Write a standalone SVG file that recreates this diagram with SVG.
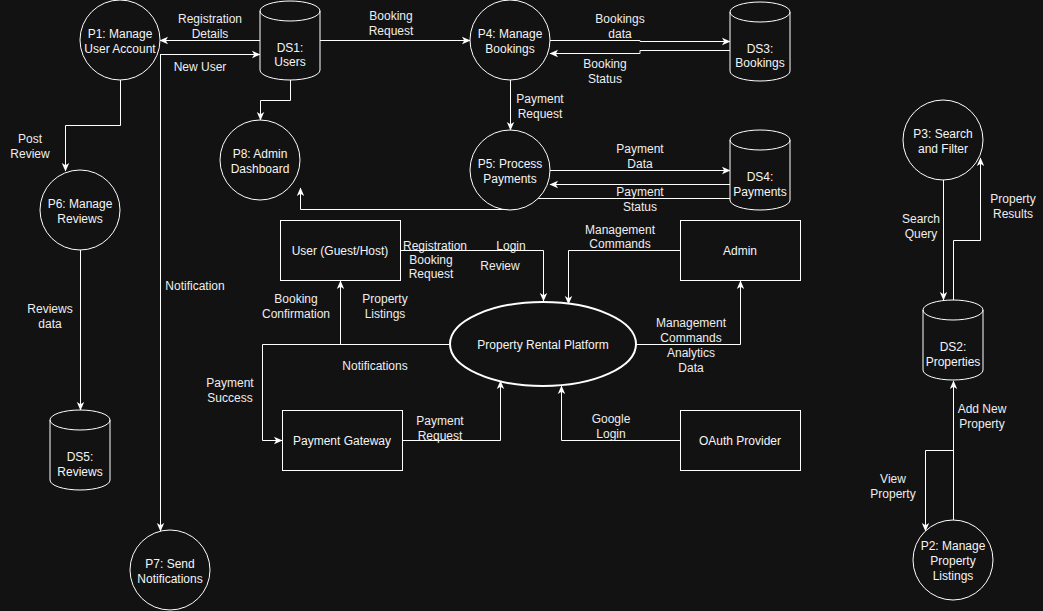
<svg xmlns="http://www.w3.org/2000/svg" width="1043" height="611" viewBox="0 0 1043 611">
  <defs>
    <marker id="arr" markerUnits="userSpaceOnUse" markerWidth="10" markerHeight="10" viewBox="0 0 10 10" refX="9" refY="5" orient="auto">
      <path d="M1,1.3 L9.5,5 L1,8.7 L3.2,5 Z" fill="#ffffff"/>
    </marker>
    <style>
      .bg { fill: #121212; }
      .shape { fill: #121212; stroke: #ffffff; stroke-width: 1; }
      .thick { stroke-width: 2; }
      .edge { fill: none; stroke: #ffffff; stroke-width: 1; marker-end: url(#arr); }
      .plain { fill: none; stroke: #ffffff; stroke-width: 1; }
      text { font-family: "Liberation Sans", Arial, sans-serif; font-size: 12px; text-anchor: middle; }
      .nt { fill: #f5f5f5; }
      .lbl { fill: #eeeeee; }
    </style>
  </defs>

  <rect class="bg" x="0" y="0" width="1043" height="611"/>

  <!-- data flows -->
  <g id="connectors">
    <path class="edge" d="M260,40.5 L160,40.5"/>
    <path class="edge" d="M160,54.5 L260,54.5"/>
    <path class="edge" d="M160.5,54.5 L160.5,531"/>
    <path class="edge" d="M290.5,80 L290.5,100.5 L260.5,100.5 L260.5,120"/>
    <path class="edge" d="M320,40.5 L470,40.5"/>
    <path class="edge" d="M550,40.5 L640,40.5 L640,41.5 L730,41.5"/>
    <path class="edge" d="M730,50.5 L640,50.5 L640,53.5 L550,53.5"/>
    <path class="edge" d="M510.5,80 L510.5,130"/>
    <path class="edge" d="M550,170.5 L730,170.5"/>
    <path class="edge" d="M730,184.5 L550,184.5"/>
    <path class="edge" d="M730,198.5 L515.5,198.5 L515.5,209.5 L300.5,209.5 L300.5,188"/>
    <path class="edge" d="M400,250.5 L543.5,250.5 L543.5,301"/>
    <path class="edge" d="M680,250.5 L568.5,250.5 L568.5,304"/>
    <path class="edge" d="M636,344.5 L740.5,344.5 L740.5,281"/>
    <path class="edge" d="M450,344.5 L340.5,344.5 L340.5,281"/>
    <path class="edge" d="M450,344.5 L262.5,344.5 L262.5,440.5 L282,440.5"/>
    <path class="edge" d="M402,440.5 L500.5,440.5 L500.5,381"/>
    <path class="edge" d="M680,440.5 L561.5,440.5 L561.5,386"/>
    <path class="edge" d="M943.5,180 L943.5,300"/>
    <path class="edge" d="M953.5,300 L953.5,240.5 L980.5,240.5 L980.5,158"/>
    <path class="edge" d="M953.5,520 L953.5,381"/>
    <path class="edge" d="M953.5,381 L953.5,450.5 L925.5,450.5 L925.5,531"/>
    <path class="edge" d="M120.5,80 L120.5,125.5 L65.5,125.5 L65.5,171"/>
    <path class="edge" d="M80.5,250 L80.5,410"/>
  </g>

  <!-- flow labels -->
  <g id="flow-labels" class="lbl">
    <text x="210" y="23">Registration</text>
    <text x="210" y="37.5">Details</text>
    <text x="200" y="71">New User</text>
    <text x="195" y="289.5">Notification</text>
    <text x="391" y="20">Booking</text>
    <text x="391" y="35">Request</text>
    <text x="620" y="23">Bookings</text>
    <text x="620" y="38">data</text>
    <text x="605" y="68">Booking</text>
    <text x="605" y="82.5">Status</text>
    <text x="540" y="103">Payment</text>
    <text x="540" y="118">Request</text>
    <text x="640" y="153">Payment</text>
    <text x="640" y="167.5">Data</text>
    <text x="640" y="195.5">Payment</text>
    <text x="640" y="210.5">Status</text>
    <text x="435" y="250">Registration</text>
    <text x="431" y="263.5">Booking</text>
    <text x="431" y="278">Request</text>
    <text x="511" y="250">Login</text>
    <text x="500" y="270">Review</text>
    <text x="620" y="233.5">Management</text>
    <text x="620" y="248">Commands</text>
    <text x="691" y="327">Management</text>
    <text x="691" y="342">Commands</text>
    <text x="691" y="356.5">Analytics</text>
    <text x="691" y="371.5">Data</text>
    <text x="296" y="303">Booking</text>
    <text x="296" y="317.5">Confirmation</text>
    <text x="385" y="303">Property</text>
    <text x="385" y="317.5">Listings</text>
    <text x="375" y="370">Notifications</text>
    <text x="230" y="387">Payment</text>
    <text x="230" y="402">Success</text>
    <text x="440" y="425">Payment</text>
    <text x="440" y="440">Request</text>
    <text x="611" y="423">Google</text>
    <text x="611" y="438">Login</text>
    <text x="921" y="223">Search</text>
    <text x="921" y="238">Query</text>
    <text x="1013" y="203">Property</text>
    <text x="1013" y="218">Results</text>
    <text x="982" y="413">Add New</text>
    <text x="982" y="428">Property</text>
    <text x="893" y="483">View</text>
    <text x="893" y="498">Property</text>
    <text x="30" y="143">Post</text>
    <text x="30" y="158">Review</text>
    <text x="50" y="313">Reviews</text>
    <text x="50" y="328">data</text>
  </g>

  <!-- processes -->
  <g id="p1">
    <circle class="shape" cx="120" cy="40" r="40"/>
    <text class="nt" x="120" y="37.5">P1: Manage</text>
    <text class="nt" x="120" y="52.5">User Account</text>
  </g>
  <g id="p4">
    <circle class="shape" cx="510" cy="40" r="40"/>
    <text class="nt" x="510" y="37.5">P4: Manage</text>
    <text class="nt" x="510" y="52.5">Bookings</text>
  </g>
  <g id="p8">
    <circle class="shape" cx="260" cy="160" r="40"/>
    <text class="nt" x="260" y="157.5">P8: Admin</text>
    <text class="nt" x="260" y="172.5">Dashboard</text>
  </g>
  <g id="p5">
    <circle class="shape" cx="510" cy="170" r="40"/>
    <text class="nt" x="510" y="167.5">P5: Process</text>
    <text class="nt" x="510" y="182.5">Payments</text>
  </g>
  <g id="p3">
    <circle class="shape" cx="943" cy="140" r="40"/>
    <text class="nt" x="943" y="137.5">P3: Search</text>
    <text class="nt" x="943" y="152.5">and Filter</text>
  </g>
  <g id="p6">
    <circle class="shape" cx="80" cy="210" r="40"/>
    <text class="nt" x="80" y="207.5">P6: Manage</text>
    <text class="nt" x="80" y="222.5">Reviews</text>
  </g>
  <g id="p7">
    <circle class="shape" cx="170" cy="570" r="40"/>
    <text class="nt" x="170" y="567.5">P7: Send</text>
    <text class="nt" x="170" y="582.5">Notifications</text>
  </g>
  <g id="p2">
    <circle class="shape" cx="953" cy="560" r="40"/>
    <text class="nt" x="953" y="550">P2: Manage</text>
    <text class="nt" x="953" y="565">Property</text>
    <text class="nt" x="953" y="580">Listings</text>
  </g>

  <!-- data stores -->
  <g id="ds1">
    <path class="shape" d="M260,11 A30,10 0 0 1 320,11 L320,70 A30,10 0 0 1 260,70 Z"/>
    <path class="plain" d="M260,11 A30,10 0 0 0 320,11"/>
    <text class="nt" x="290" y="52">DS1:</text>
    <text class="nt" x="290" y="66">Users</text>
  </g>
  <g id="ds3">
    <path class="shape" d="M730,12 A30,10 0 0 1 790,12 L790,71 A30,10 0 0 1 730,71 Z"/>
    <path class="plain" d="M730,12 A30,10 0 0 0 790,12"/>
    <text class="nt" x="760" y="52.5">DS3:</text>
    <text class="nt" x="760" y="67">Bookings</text>
  </g>
  <g id="ds4">
    <path class="shape" d="M730,140 A30,10 0 0 1 790,140 L790,200 A30,10 0 0 1 730,200 Z"/>
    <path class="plain" d="M730,140 A30,10 0 0 0 790,140"/>
    <text class="nt" x="760" y="181">DS4:</text>
    <text class="nt" x="760" y="196">Payments</text>
  </g>
  <g id="ds2">
    <path class="shape" d="M923,310 A30,10 0 0 1 983,310 L983,370 A30,10 0 0 1 923,370 Z"/>
    <path class="plain" d="M923,310 A30,10 0 0 0 983,310"/>
    <text class="nt" x="953" y="351">DS2:</text>
    <text class="nt" x="953" y="366">Properties</text>
  </g>
  <g id="ds5">
    <path class="shape" d="M50,420 A30,10 0 0 1 110,420 L110,480 A30,10 0 0 1 50,480 Z"/>
    <path class="plain" d="M50,420 A30,10 0 0 0 110,420"/>
    <text class="nt" x="80" y="461">DS5:</text>
    <text class="nt" x="80" y="476">Reviews</text>
  </g>

  <!-- central system -->
  <g id="platform">
    <ellipse class="shape thick" cx="543" cy="344" rx="93" ry="42"/>
    <text class="nt" x="543" y="349">Property Rental Platform</text>
  </g>

  <!-- external entities -->
  <g id="user">
    <rect class="shape" x="280.5" y="220.5" width="120" height="60"/>
    <text class="nt" x="340" y="254.5">User (Guest/Host)</text>
  </g>
  <g id="admin">
    <rect class="shape" x="680.5" y="220.5" width="120" height="60"/>
    <text class="nt" x="740" y="254.5">Admin</text>
  </g>
  <g id="payment-gateway">
    <rect class="shape" x="282.5" y="410.5" width="120" height="60"/>
    <text class="nt" x="342" y="444.5">Payment Gateway</text>
  </g>
  <g id="oauth-provider">
    <rect class="shape" x="680.5" y="410.5" width="120" height="60"/>
    <text class="nt" x="740" y="444.5">OAuth Provider</text>
  </g>
</svg>
